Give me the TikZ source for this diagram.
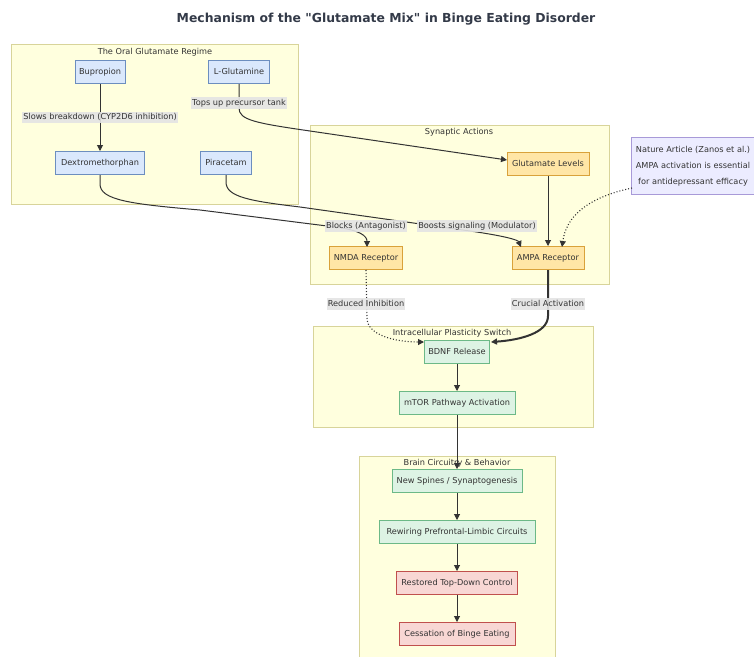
\documentclass[tikz,border=0pt]{standalone}
\usepackage{fontspec}
\setmainfont{DejaVu Sans}
\usetikzlibrary{arrows.meta}
\font\titlef="DejaVu Sans/B" at 12.4pt
\definecolor{clfill}{HTML}{FFFFDE}
\definecolor{cldraw}{HTML}{D8D49A}
\definecolor{bfill}{HTML}{DAE8FC}
\definecolor{bdraw}{HTML}{6C8EBF}
\definecolor{yfill}{HTML}{FFE6A6}
\definecolor{ydraw}{HTML}{D9A23A}
\definecolor{gfill}{HTML}{DDF3E4}
\definecolor{gdraw}{HTML}{6CB987}
\definecolor{rfill}{HTML}{F8D7D4}
\definecolor{rdraw}{HTML}{C0504D}
\definecolor{nfill}{HTML}{ECECFF}
\definecolor{ndraw}{HTML}{A89AD8}
\definecolor{txt}{HTML}{333333}
\definecolor{ttl}{HTML}{333A48}
\definecolor{edge}{HTML}{333333}
\definecolor{lblbg}{HTML}{E4E4E4}
\newcommand{\fs}{\fontsize{8.2}{9}\selectfont}
\tikzset{
  cluster/.style={fill=clfill,draw=cldraw,line width=0.8pt},
  cltitle/.style={font=\fs,text=txt,inner sep=0pt},
  box/.style={draw,line width=1pt,minimum height=23pt,inner xsep=4pt,text height=6.2pt,text depth=1.6pt,font=\fs,text=txt},
  bluebox/.style={box,fill=bfill,draw=bdraw},
  yelbox/.style={box,fill=yfill,draw=ydraw},
  grnbox/.style={box,fill=gfill,draw=gdraw},
  redbox/.style={box,fill=rfill,draw=rdraw},
  lbl/.style={fill=lblbg,fill opacity=0.9,text opacity=1,inner xsep=1pt,inner ysep=2pt,text height=6.2pt,text depth=1.6pt,font=\fs,text=txt},
  conn/.style={draw=edge,line width=1pt,-{Triangle[length=6pt,width=6pt]}},
  dconn/.style={conn,dotted,line width=1.1pt},
  thick conn/.style={conn,line width=2pt},
}
\begin{document}
\begin{tikzpicture}[x=1pt,y=-1pt]
\useasboundingbox (0,0) rectangle (754,656);
\clip (0,0) rectangle (754,656);
\fill[white] (0,0) rectangle (754,656);
% title
\node[font=\titlef,text=ttl] (title) at (386,19) {Mechanism of the "Glutamate Mix" in Binge Eating Disorder};
% clusters
\draw[cluster] (11,44) rectangle (298,204);
\node[cltitle] (c1) at (155,52) {The Oral Glutamate Regime};
\draw[cluster] (310,125) rectangle (609,284);
\node[cltitle] (c2) at (459,132) {Synaptic Actions};
\draw[cluster] (313,326) rectangle (593,427);
\node[cltitle] (c3) at (452,333) {Intracellular Plasticity Switch};
\draw[cluster] (359,456) rectangle (555,670);
\node[cltitle] (c4) at (457,463) {Brain Circuitry \& Behavior};
% nodes
\node[bluebox,minimum width=50pt] (bup) at (100,72) {Bupropion};
\node[bluebox,minimum width=61pt] (lgl) at (239,72) {L-Glutamine};
\node[bluebox,minimum width=89pt] (dxm) at (100,163) {Dextromethorphan};
\node[bluebox,minimum width=51pt] (pir) at (226,163) {Piracetam};
\node[yelbox,minimum width=82pt] (glu) at (548,164) {Glutamate Levels};
\node[yelbox,minimum width=73pt] (nmda) at (366,258) {NMDA Receptor};
\node[yelbox,minimum width=72pt] (ampa) at (548,258) {AMPA Receptor};
\node[draw=ndraw,fill=nfill,line width=0.8pt,minimum width=124pt,minimum height=57pt,align=center,font=\fontsize{8.2}{16}\selectfont,text=txt] (note) at (693,166) {Nature Article (Zanos et al.)\\AMPA activation is essential\\for antidepressant efficacy};
\node[grnbox,minimum width=65pt] (bdnf) at (457,352) {BDNF Release};
\node[grnbox,minimum width=116pt] (mtor) at (457,403) {mTOR Pathway Activation};
\node[grnbox,minimum width=130pt] (spin) at (457,481) {New Spines / Synaptogenesis};
\node[grnbox,minimum width=156pt] (rew) at (457,532) {Rewiring Prefrontal-Limbic Circuits};
\node[redbox,minimum width=121pt] (rest) at (457,583) {Restored Top-Down Control};
\node[redbox,minimum width=116pt] (cess) at (457,634) {Cessation of Binge Eating};
% coordinates
\coordinate (glin) at (507,160);
\coordinate (nmdatop) at (367,247);
\coordinate (ampatop1) at (521,247);
\coordinate (ampatop2) at (562,247);
\coordinate (notebl) at (632,188);
\coordinate (bdnfl) at (424,342);
\coordinate (bdnfr) at (491,342);
% edges
\draw[conn] (bup) -- node[lbl] (l1) {Slows breakdown (CYP2D6 inhibition)} (dxm);
\draw[conn] (lgl.south) -- (239,108) .. controls (239,120) and (255,123) .. (310,131) -- (glin);
\node[lbl] (l2) at (239,103) {Tops up precursor tank};
\draw[conn] (dxm.south) -- (100,184) .. controls (100,200) and (130,204) .. (200,210) -- (335,227) .. controls (360,230) and (367,236) .. (nmdatop);
\draw[conn] (pir.south) -- (226,182) .. controls (226,197) and (250,201) .. (300,207) -- (470,231) .. controls (505,236) and (518,240) .. (ampatop1);
\node[lbl] (l3) at (366,226) {Blocks (Antagonist)};
\node[lbl] (l4) at (477,226) {Boosts signaling (Modulator)};
\draw[conn] (glu) -- (ampa);
\draw[dconn] (notebl) .. controls (585,198) and (566,218) .. (ampatop2);
\draw[dconn] (nmda.south) -- (367,318) .. controls (367,335) and (395,342) .. (bdnfl);
\draw[thick conn] (ampa.south) -- (548,316) .. controls (548,333) and (520,340) .. (bdnfr);
\node[lbl] (l5) at (366,304) {Reduced Inhibition};
\node[lbl] (l6) at (548,304) {Crucial Activation};
\draw[conn] (bdnf) -- (mtor);
\draw[conn] (mtor) -- (spin);
\draw[conn] (spin) -- (rew);
\draw[conn] (rew) -- (rest);
\draw[conn] (rest) -- (cess);
\end{tikzpicture}
\end{document}
